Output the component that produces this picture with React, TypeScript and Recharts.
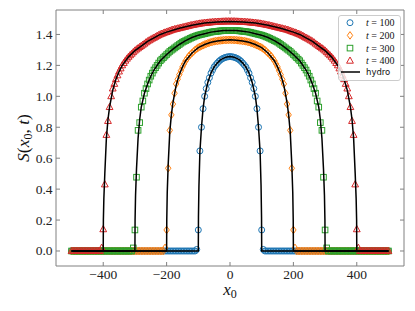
import React from "react";
import { ScatterChart, Scatter, XAxis, YAxis, Legend } from "recharts";

// shared x0 grid (step 5) used by all four simulation series
const gridX = [
  -500, -495, -490, -485, -480, -475, -470, -465, -460, -455, -450, -445, -440, -435, -430, -425, -420, -415, -410, -405,
  -400, -395, -390, -385, -380, -375, -370, -365, -360, -355, -350, -345, -340, -335, -330, -325, -320, -315, -310, -305,
  -300, -295, -290, -285, -280, -275, -270, -265, -260, -255, -250, -245, -240, -235, -230, -225, -220, -215, -210, -205,
  -200, -195, -190, -185, -180, -175, -170, -165, -160, -155, -150, -145, -140, -135, -130, -125, -120, -115, -110, -105,
  -100, -95, -90, -85, -80, -75, -70, -65, -60, -55, -50, -45, -40, -35, -30, -25, -20, -15, -10, -5,
  0,
  5, 10, 15, 20, 25, 30, 35, 40, 45, 50, 55, 60, 65, 70, 75, 80, 85, 90, 95, 100,
  105, 110, 115, 120, 125, 130, 135, 140, 145, 150, 155, 160, 165, 170, 175, 180, 185, 190, 195, 200,
  205, 210, 215, 220, 225, 230, 235, 240, 245, 250, 255, 260, 265, 270, 275, 280, 285, 290, 295, 300,
  305, 310, 315, 320, 325, 330, 335, 340, 345, 350, 355, 360, 365, 370, 375, 380, 385, 390, 395, 400,
  405, 410, 415, 420, 425, 430, 435, 440, 445, 450, 455, 460, 465, 470, 475, 480, 485, 490, 495, 500,
];

const times = [100, 200, 300, 400];

const s100 = [
  0, 0, 0, 0, 0, 0, 0, 0, 0, 0, 0, 0, 0, 0, 0, 0, 0, 0, 0, 0,
  0, 0, 0, 0, 0, 0, 0, 0, 0, 0, 0, 0, 0, 0, 0, 0, 0, 0, 0, 0,
  0, 0, 0, 0, 0, 0, 0, 0, 0, 0, 0, 0, 0, 0, 0, 0, 0, 0, 0, 0,
  0, 0, 0, 0, 0, 0, 0, 0, 0, 0, 0, 0, 0, 0, 0, 0, 0, 0, 0, 0.01,
  0.136, 0.647, 0.8, 0.92, 1.0, 1.05, 1.09, 1.12, 1.15, 1.17, 1.19, 1.203, 1.215, 1.226, 1.235, 1.242, 1.247, 1.251, 1.254, 1.256,
  1.257,
  1.256, 1.254, 1.251, 1.247, 1.242, 1.235, 1.226, 1.215, 1.203, 1.19, 1.17, 1.15, 1.12, 1.09, 1.05, 1.0, 0.92, 0.8, 0.647, 0.136,
  0.01, 0, 0, 0, 0, 0, 0, 0, 0, 0, 0, 0, 0, 0, 0, 0, 0, 0, 0, 0,
  0, 0, 0, 0, 0, 0, 0, 0, 0, 0, 0, 0, 0, 0, 0, 0, 0, 0, 0, 0,
  0, 0, 0, 0, 0, 0, 0, 0, 0, 0, 0, 0, 0, 0, 0, 0, 0, 0, 0, 0,
  0, 0, 0, 0, 0, 0, 0, 0, 0, 0, 0, 0, 0, 0, 0, 0, 0, 0, 0, 0,
];

const s200 = [
  0, 0, 0, 0, 0, 0, 0, 0, 0, 0, 0, 0, 0, 0, 0, 0, 0, 0, 0, 0,
  0, 0, 0, 0, 0, 0, 0, 0, 0, 0, 0, 0, 0, 0, 0, 0, 0, 0, 0, 0,
  0, 0, 0, 0, 0, 0, 0, 0, 0, 0, 0, 0, 0, 0, 0, 0, 0, 0, 0, 0.02,
  0.136, 0.535, 0.78, 0.88, 0.95, 1.02, 1.08, 1.11, 1.14, 1.165, 1.19, 1.21, 1.23, 1.245, 1.26, 1.27, 1.28, 1.29, 1.3, 1.308,
  1.315, 1.32, 1.325, 1.33, 1.335, 1.339, 1.343, 1.347, 1.35, 1.353, 1.355, 1.357, 1.358, 1.36, 1.361, 1.362, 1.363, 1.364, 1.364, 1.365,
  1.365,
  1.365, 1.364, 1.364, 1.363, 1.362, 1.361, 1.36, 1.358, 1.357, 1.355, 1.353, 1.35, 1.347, 1.343, 1.339, 1.335, 1.33, 1.325, 1.32, 1.315,
  1.308, 1.3, 1.29, 1.28, 1.27, 1.26, 1.245, 1.23, 1.21, 1.19, 1.165, 1.14, 1.11, 1.08, 1.02, 0.95, 0.88, 0.78, 0.535, 0.136,
  0.02, 0, 0, 0, 0, 0, 0, 0, 0, 0, 0, 0, 0, 0, 0, 0, 0, 0, 0, 0,
  0, 0, 0, 0, 0, 0, 0, 0, 0, 0, 0, 0, 0, 0, 0, 0, 0, 0, 0, 0,
  0, 0, 0, 0, 0, 0, 0, 0, 0, 0, 0, 0, 0, 0, 0, 0, 0, 0, 0, 0,
];

const s300 = [
  0, 0, 0, 0, 0, 0, 0, 0, 0, 0, 0, 0, 0, 0, 0, 0, 0, 0, 0, 0,
  0, 0, 0, 0, 0, 0, 0, 0, 0, 0, 0, 0, 0, 0, 0, 0, 0, 0, 0, 0.02,
  0.136, 0.477, 0.78, 0.83, 0.93, 0.97, 1.02, 1.05, 1.08, 1.105, 1.13, 1.15, 1.17, 1.185, 1.2, 1.215, 1.23, 1.24, 1.25, 1.26,
  1.27, 1.28, 1.29, 1.298, 1.305, 1.313, 1.32, 1.328, 1.335, 1.343, 1.35, 1.355, 1.36, 1.365, 1.37, 1.375, 1.38, 1.384, 1.388, 1.392,
  1.395, 1.398, 1.4, 1.403, 1.405, 1.408, 1.41, 1.413, 1.415, 1.417, 1.418, 1.419, 1.42, 1.422, 1.423, 1.424, 1.425, 1.425, 1.426, 1.426,
  1.426,
  1.426, 1.426, 1.425, 1.425, 1.424, 1.423, 1.422, 1.42, 1.419, 1.418, 1.417, 1.415, 1.413, 1.41, 1.408, 1.405, 1.403, 1.4, 1.398, 1.395,
  1.392, 1.388, 1.384, 1.38, 1.375, 1.37, 1.365, 1.36, 1.355, 1.35, 1.343, 1.335, 1.328, 1.32, 1.313, 1.305, 1.298, 1.29, 1.28, 1.27,
  1.26, 1.25, 1.24, 1.23, 1.215, 1.2, 1.185, 1.17, 1.15, 1.13, 1.105, 1.08, 1.05, 1.02, 0.97, 0.93, 0.83, 0.78, 0.477, 0.136,
  0.02, 0, 0, 0, 0, 0, 0, 0, 0, 0, 0, 0, 0, 0, 0, 0, 0, 0, 0, 0,
  0, 0, 0, 0, 0, 0, 0, 0, 0, 0, 0, 0, 0, 0, 0, 0, 0, 0, 0, 0,
];

const s400 = [
  0, 0, 0, 0, 0, 0, 0, 0, 0, 0, 0, 0, 0, 0, 0, 0, 0, 0, 0, 0.02,
  0.14, 0.43, 0.75, 0.84, 0.93, 1.0, 1.05, 1.08, 1.11, 1.135, 1.16, 1.18, 1.2, 1.215, 1.23, 1.243, 1.255, 1.265, 1.275, 1.285,
  1.295, 1.303, 1.31, 1.318, 1.325, 1.333, 1.34, 1.348, 1.355, 1.361, 1.367, 1.373, 1.378, 1.384, 1.39, 1.395, 1.4, 1.404, 1.408, 1.412,
  1.415, 1.419, 1.423, 1.427, 1.43, 1.433, 1.435, 1.438, 1.44, 1.443, 1.445, 1.448, 1.45, 1.453, 1.455, 1.458, 1.46, 1.462, 1.464, 1.466,
  1.468, 1.47, 1.471, 1.473, 1.474, 1.475, 1.476, 1.477, 1.478, 1.479, 1.48, 1.481, 1.481, 1.482, 1.482, 1.483, 1.483, 1.484, 1.484, 1.484,
  1.484,
  1.484, 1.484, 1.484, 1.483, 1.483, 1.482, 1.482, 1.481, 1.481, 1.48, 1.479, 1.478, 1.477, 1.476, 1.475, 1.474, 1.473, 1.471, 1.47, 1.468,
  1.466, 1.464, 1.462, 1.46, 1.458, 1.455, 1.453, 1.45, 1.448, 1.445, 1.443, 1.44, 1.438, 1.435, 1.433, 1.43, 1.427, 1.423, 1.419, 1.415,
  1.412, 1.408, 1.404, 1.4, 1.395, 1.39, 1.384, 1.378, 1.373, 1.367, 1.361, 1.355, 1.348, 1.34, 1.333, 1.325, 1.318, 1.31, 1.303, 1.295,
  1.285, 1.275, 1.265, 1.255, 1.243, 1.23, 1.215, 1.2, 1.18, 1.16, 1.135, 1.11, 1.08, 1.05, 1.0, 0.93, 0.84, 0.75, 0.43, 0.14,
  0.02, 0, 0, 0, 0, 0, 0, 0, 0, 0, 0, 0, 0, 0, 0, 0, 0, 0, 0, 0,
];

// hydro curves
const hx100 = [-500, -100, -99.5, -98, -95, -90, -85, -80, -70, -60, -50, -40, -30, -20, -10, 0,
  10, 20, 30, 40, 50, 60, 70, 80, 85, 90, 95, 98, 99.5, 100, 500];
const hy100 = [0, 0, 0.22, 0.42, 0.64, 0.8, 0.92, 1.0, 1.09, 1.15, 1.19, 1.215, 1.235, 1.247, 1.254, 1.257,
  1.254, 1.247, 1.235, 1.215, 1.19, 1.15, 1.09, 1.0, 0.92, 0.8, 0.64, 0.42, 0.22, 0, 0];

const hx200 = [-500, -200, -199.5, -198, -195, -190, -185, -180, -170, -160, -150, -140, -120, -100, -80, -60, -40, -20, 0,
  20, 40, 60, 80, 100, 120, 140, 150, 160, 170, 180, 185, 190, 195, 198, 199.5, 200, 500];
const hy200 = [0, 0, 0.2, 0.38, 0.56, 0.77, 0.88, 0.96, 1.07, 1.14, 1.19, 1.23, 1.28, 1.315, 1.335, 1.35, 1.358, 1.363, 1.365,
  1.363, 1.358, 1.35, 1.335, 1.315, 1.28, 1.23, 1.19, 1.14, 1.07, 0.96, 0.88, 0.77, 0.56, 0.38, 0.2, 0, 0];

const hx300 = [-500, -300, -299.5, -298, -295, -290, -285, -280, -270, -260, -250, -240, -220, -200, -180, -160, -140, -120, -100, -80, -60, -40, -20, 0,
  20, 40, 60, 80, 100, 120, 140, 160, 180, 200, 220, 240, 250, 260, 270, 280, 285, 290, 295, 298, 299.5, 300, 500];
const hy300 = [0, 0, 0.2, 0.36, 0.53, 0.73, 0.85, 0.93, 1.02, 1.08, 1.13, 1.17, 1.23, 1.27, 1.305, 1.335, 1.36, 1.38, 1.395, 1.405, 1.415, 1.42, 1.425, 1.426,
  1.425, 1.42, 1.415, 1.405, 1.395, 1.38, 1.36, 1.335, 1.305, 1.27, 1.23, 1.17, 1.13, 1.08, 1.02, 0.93, 0.85, 0.73, 0.53, 0.36, 0.2, 0, 0];

const hx400 = [-500, -400, -399.5, -398, -395, -390, -385, -380, -370, -360, -350, -340, -320, -300, -280, -260, -240, -220, -200, -160, -120, -80, -40, 0,
  40, 80, 120, 160, 200, 220, 240, 260, 280, 300, 320, 340, 350, 360, 370, 380, 385, 390, 395, 398, 399.5, 400, 500];
const hy400 = [0, 0, 0.2, 0.34, 0.5, 0.73, 0.85, 0.93, 1.04, 1.11, 1.16, 1.2, 1.255, 1.295, 1.325, 1.355, 1.378, 1.4, 1.415, 1.44, 1.46, 1.474, 1.481, 1.483,
  1.481, 1.474, 1.46, 1.44, 1.415, 1.4, 1.378, 1.355, 1.325, 1.295, 1.255, 1.2, 1.16, 1.11, 1.04, 0.93, 0.85, 0.73, 0.5, 0.34, 0.2, 0, 0];

const xTicks = [-400, -200, 0, 200, 400];
const yTicks = [0, 0.2, 0.4, 0.6, 0.8, 1.0, 1.2, 1.4];

const BLUE = "#1f77b4";
const ORANGE = "#ff7f0e";
const GREEN = "#2ca02c";
const RED = "#d62728";
const SPINE = "#808080";
const SERIF = "'Liberation Serif', 'DejaVu Serif', serif";

const toPoints = (xs: number[], ys: number[]) => xs.map((x, i) => ({ x, y: ys[i] }));

const pts100 = toPoints(gridX, s100);
const pts200 = toPoints(gridX, s200);
const pts300 = toPoints(gridX, s300);
const pts400 = toPoints(gridX, s400);
const hydro = [toPoints(hx100, hy100), toPoints(hx200, hy200), toPoints(hx300, hy300), toPoints(hx400, hy400)];

function CircleMark({ cx, cy }: any) {
  return <circle cx={cx} cy={cy} r={3} fill="none" stroke={BLUE} strokeWidth={1} />;
}
function DiamondMark({ cx, cy }: any) {
  return (
    <polygon
      points={`${cx},${cy - 3.8} ${cx + 2.7},${cy} ${cx},${cy + 3.8} ${cx - 2.7},${cy}`}
      fill="none"
      stroke={ORANGE}
      strokeWidth={1}
    />
  );
}
function SquareMark({ cx, cy }: any) {
  return <rect x={cx - 2.8} y={cy - 2.8} width={5.6} height={5.6} fill="none" stroke={GREEN} strokeWidth={1} />;
}
function TriangleMark({ cx, cy }: any) {
  return (
    <polygon
      points={`${cx},${cy - 3.8} ${cx + 3.4},${cy + 2.4} ${cx - 3.4},${cy + 2.4}`}
      fill="none"
      stroke={RED}
      strokeWidth={1}
    />
  );
}
const NoMark = () => <g />;

const fmtX = (v: number) => (v < 0 ? `\u2212${Math.abs(v)}` : `${v}`);

function BottomTick({ x, y, payload }: any) {
  return (
    <g>
      <line x1={x} y1={y} x2={x} y2={y - 4} stroke={SPINE} />
      <text x={x} y={y + 13} textAnchor="middle" fontSize={13.5} fontFamily={SERIF} fill="#222">
        {fmtX(payload.value)}
      </text>
    </g>
  );
}
function TopTick({ x, y }: any) {
  return <line x1={x} y1={y} x2={x} y2={y + 4} stroke={SPINE} />;
}
function LeftTick({ x, y, payload }: any) {
  return (
    <g>
      <line x1={x} y1={y} x2={x + 4} y2={y} stroke={SPINE} />
      <text x={x - 3.5} y={y + 4.5} textAnchor="end" fontSize={13.5} fontFamily={SERIF} fill="#222">
        {payload.value.toFixed(1)}
      </text>
    </g>
  );
}
function RightTick({ x, y }: any) {
  return <line x1={x} y1={y} x2={x - 4} y2={y} stroke={SPINE} />;
}

function XTitle() {
  return (
    <text x={230} y={295} textAnchor="middle" fontSize={17} fontFamily={SERIF} fill="#111">
      <tspan fontStyle="italic">x</tspan>
      <tspan fontSize={12} dy={3}>0</tspan>
    </text>
  );
}
function YTitle() {
  return (
    <text x={29} y={138} textAnchor="middle" fontSize={17.5} fontFamily={SERIF} fill="#111" transform="rotate(-90, 29, 138)">
      <tspan fontStyle="italic">S</tspan>
      <tspan>(</tspan>
      <tspan fontStyle="italic">x</tspan>
      <tspan fontSize={12} dy={3}>0</tspan>
      <tspan dy={-3}>, </tspan>
      <tspan fontStyle="italic">t</tspan>
      <tspan>)</tspan>
    </text>
  );
}

function LegendBox() {
  const marks = [CircleMark, DiamondMark, SquareMark, TriangleMark];
  const rowY = [7.7, 20.4, 33.1, 45.8];
  return (
    <svg width={64} height={67} style={{ display: "block" }}>
      <rect x={0.5} y={0.5} width={62} height={65} rx={2.5} fill="rgba(255,255,255,0.8)" stroke="#cccccc" />
      {times.map((t, i) => {
        const M = marks[i];
        return (
          <g key={t}>
            <M cx={12} cy={rowY[i]} />
            <text x={28} y={rowY[i] + 3.4} fontSize={10} fontFamily={SERIF} fill="#111">
              <tspan fontStyle="italic">t</tspan>
              <tspan> = {t}</tspan>
            </text>
          </g>
        );
      })}
      <line x1={3} y1={57} x2={22} y2={57} stroke="#000" strokeWidth={1.5} />
      <text x={28} y={60} fontSize={8.5} fontFamily="'DejaVu Sans', sans-serif" fill="#111">
        hydro
      </text>
    </svg>
  );
}

export default function App() {
  return (
    <div style={{ position: "fixed", left: 0, top: 0, width: 415, height: 311, background: "#fff" }}>
      <ScatterChart width={415} height={311} margin={{ top: 9, right: 10, bottom: 0, left: 0 }}>
        <XAxis
          type="number"
          dataKey="x"
          domain={[-549, 549]}
          ticks={xTicks}
          allowDataOverflow
          height={45}
          tickSize={0}
          tickMargin={0}
          tickLine={false}
          axisLine={{ stroke: SPINE }}
          tick={<BottomTick />}
          interval={0}
          label={<XTitle />}
        />
        <XAxis
          xAxisId="top"
          orientation="top"
          type="number"
          dataKey="x"
          domain={[-549, 549]}
          ticks={xTicks}
          allowDataOverflow
          height={1}
          tickSize={0}
          tickMargin={0}
          tickLine={false}
          axisLine={{ stroke: SPINE }}
          tick={<TopTick />}
          interval={0}
        />
        <YAxis
          type="number"
          dataKey="y"
          domain={[-0.097, 1.558]}
          ticks={yTicks}
          allowDataOverflow
          width={56}
          tickSize={0}
          tickMargin={0}
          tickLine={false}
          axisLine={{ stroke: SPINE }}
          tick={<LeftTick />}
          interval={0}
          label={<YTitle />}
        />
        <YAxis
          yAxisId="right"
          orientation="right"
          type="number"
          dataKey="y"
          domain={[-0.097, 1.558]}
          ticks={yTicks}
          allowDataOverflow
          width={1}
          tickSize={0}
          tickMargin={0}
          tickLine={false}
          axisLine={{ stroke: SPINE }}
          tick={<RightTick />}
          interval={0}
        />
        <Scatter data={pts100} shape={<CircleMark />} isAnimationActive={false} />
        <Scatter data={pts200} shape={<DiamondMark />} isAnimationActive={false} />
        <Scatter data={pts300} shape={<SquareMark />} isAnimationActive={false} />
        <Scatter data={pts400} shape={<TriangleMark />} isAnimationActive={false} />
        {hydro.map((h, i) => (
          <Scatter
            key={i}
            data={h}
            xAxisId="top"
            yAxisId="right"
            line={{ stroke: "#000", strokeWidth: 1.5 }}
            shape={<NoMark />}
            isAnimationActive={false}
          />
        ))}
        <Legend
          layout="vertical"
          align="center"
          verticalAlign="middle"
          wrapperStyle={{ left: 338, top: 15, width: 64, height: 67 }}
          content={() => <LegendBox />}
        />
      </ScatterChart>
    </div>
  );
}
